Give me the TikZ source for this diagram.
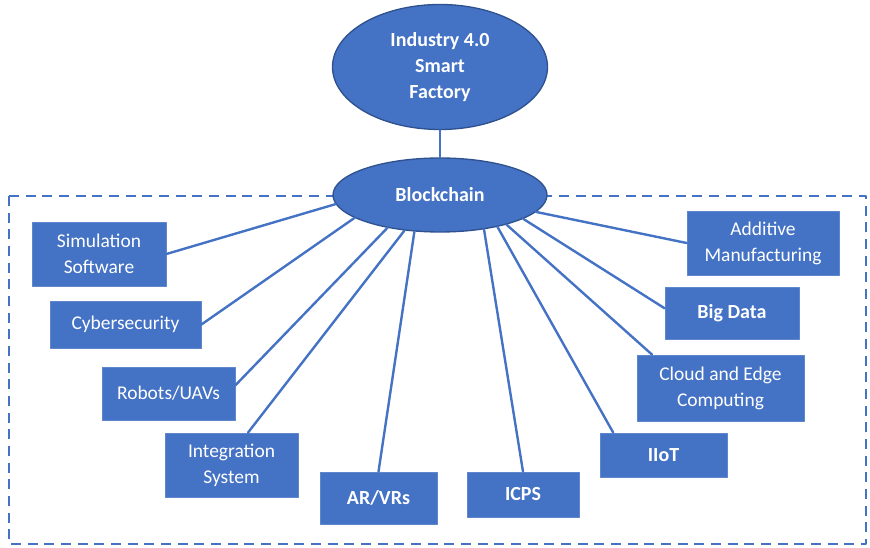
\documentclass[tikz,border=0pt]{standalone}
\usepackage{fontspec}
\setmainfont{Carlito}
\usetikzlibrary{shapes.geometric}
\definecolor{officeblue}{HTML}{4472C4}
\definecolor{darkblue}{HTML}{2F528F}

\begin{document}
\begin{tikzpicture}[line cap=round,line join=round,x=0.75pt,y=-0.75pt,
	hub/.style={ellipse,fill=officeblue,draw=darkblue,line width=1pt,text=white,align=center,inner sep=0pt,font=\bfseries\fontsize{15}{19.5}\selectfont},
	tech/.style={rectangle,fill=officeblue,draw=officeblue!85!white,line width=0.6pt,text=white,align=center,inner sep=0pt,font=\fontsize{14.6}{19.5}\selectfont},
	techbold/.style={tech,font=\bfseries\fontsize{15}{19.5}\selectfont},
	link/.style={officeblue,line width=1.8pt}]
			\useasboundingbox (0,0) rectangle (870,548);
			%%%%%%%%%%%%%%% F R A M E %%%%%%%%%%%%%%%%
			\draw [officeblue,line width=2.2pt,line cap=butt,dash pattern=on 7.5pt off 5pt] (9,196) rectangle (866,544);
			%%%%%%%%%%%%%%% H U B S %%%%%%%%%%%%%%%%
			\node [hub,minimum width=161.25pt,minimum height=93.75pt] (factory) at (440,67) {Industry 4.0\\Smart\\Factory};
			\node [hub,minimum width=160.5pt,minimum height=55.5pt] (chain) at (440,195) {Blockchain};
			%%%%%%%%%%%%%%% T E C H N O L O G I E S %%%%%%%%%%%%%%%%
			%left side
			\node [tech,minimum width=100.5pt,minimum height=48pt] (sim) at (99,254) {Simulation\\Software};
			\node [tech,minimum width=113.25pt,minimum height=35.25pt] (cyber) at (125.5,324.5) {Cybersecurity};
			\node [tech,minimum width=99.75pt,minimum height=39.75pt] (robots) at (168.5,393.5) {Robots/UAVs};
			\node [tech,minimum width=99.75pt,minimum height=48pt] (integ) at (231.5,465) {Integration\\System};
			%bottom
			\node [techbold,minimum width=87.75pt,minimum height=39pt] (arvr) at (378.5,498) {AR/VRs};
			\node [techbold,minimum width=84pt,minimum height=33.75pt] (icps) at (523,494.5) {ICPS};
			%right side
			\node [techbold,minimum width=95.25pt,minimum height=33pt] (iiot) at (663.5,455) {IIoT};
			\node [tech,minimum width=125.25pt,minimum height=49.5pt] (cloud) at (720.5,388) {Cloud and Edge\\Computing};
			\node [techbold,minimum width=100.5pt,minimum height=39pt] (bigdata) at (732,313) {Big Data};
			\node [tech,minimum width=114pt,minimum height=48pt] (additive) at (763,243) {Additive\\Manufacturing};
			%%%%%%%%%%%%%%% L I N K S %%%%%%%%%%%%%%%%
			\draw [link] (factory.south) -- (chain.north);
			\draw [link] (sim.east) -- (chain.185);
			\draw [link] (cyber.east) -- (chain.195.5);
			\draw [link] (robots.7) -- (chain.212.6);
			\draw [link] (integ.63) -- (chain.225.8);
			\draw [link] (arvr.north) -- (chain.235.2);
			\draw [link] (icps.north) -- (chain.322.3);
			\draw [link] (iiot.156) -- (chain.331);
			\draw [link] (cloud.154) -- (chain.336);
			\draw [link] (bigdata.176) -- (chain.344.2);
			\draw [link] (additive.west) -- (chain.350.3);
		\end{tikzpicture}
\end{document}
